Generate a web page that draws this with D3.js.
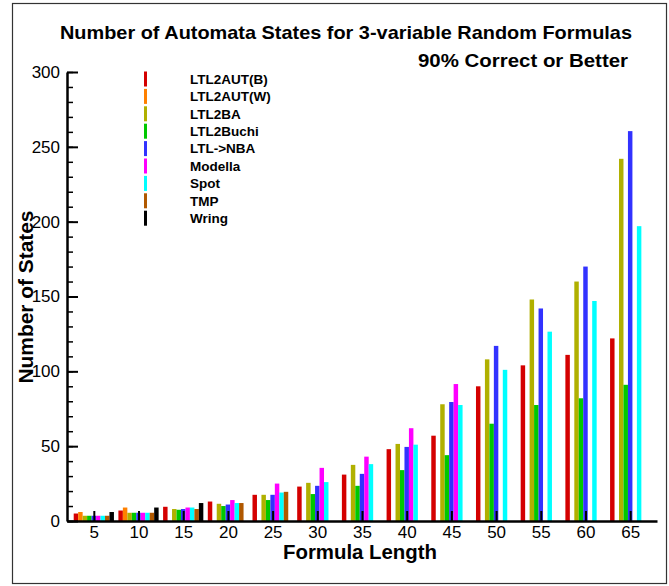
<!DOCTYPE html>
<html>
<head>
<meta charset="utf-8">
<script src="https://d3js.org/d3.v7.min.js"></script>
<style>
  body { margin: 0; background: #fff; }
  text { font-family: "Liberation Sans", Arial, sans-serif; }
</style>
</head>
<body>
<svg id="chart"></svg>
<script>
// formula lengths on the x axis
var lengths = [5, 10, 15, 20, 25, 30, 35, 40, 45, 50, 55, 60, 65];

var toolNames = ["LTL2AUT(B)", "LTL2AUT(W)", "LTL2BA", "LTL2Buchi", "LTL->NBA", "Modella", "Spot", "TMP", "Wring"];
var toolColors = ["#d40000", "#ff8000", "#b0b000", "#00c800", "#3232ff", "#ff00ff", "#00ffff", "#b05800", "#000000"];

// number of states per tool (null = no bar)
var ltl2autB  = [5, 7, 9.5, 13, 17.5, 23, 31, 48, 57, 90, 104, 111, 122];
var ltl2autW  = [6, 9, null, null, null, null, null, null, null, null, null, null, null];
var ltl2ba    = [3.5, 5.5, 8, 11.5, 17.5, 25.5, 37.5, 51.5, 78, 108, 148, 160, 242];
var ltl2buchi = [3.5, 5.5, 7.5, 10, 14, 18, 23.5, 34, 44, 65, 77.5, 82, 91];
var ltlNba    = [3.5, 5.5, 8, 11, 17.5, 23.5, 31.5, 49.5, 79.5, 117, 142, 170, 260.5];
var modella   = [3.5, 5.5, 9, 14, 25, 35.5, 43, 62, 91.5, null, null, null, null];
var spot      = [3.5, 5.5, 9, 12, 19, 26, 38, 51, 77.5, 101, 126.5, 147, 197];
var tmp       = [3.5, 5.5, 8, 12, 19.5, null, null, null, null, null, null, null, null];
var wring     = [6, 9, 12, null, null, null, null, null, null, null, null, null, null];

var series = [ltl2autB, ltl2autW, ltl2ba, ltl2buchi, ltlNba, modella, spot, tmp, wring];

var yTicks = [0, 50, 100, 150, 200, 250, 300];

var width = 669;
var height = 586;

var svg = d3.select("#chart")
    .attr("width", width)
    .attr("height", height);

// outer frame
svg.append("rect")
    .attr("x", 12.5)
    .attr("y", 3.5)
    .attr("width", 654)
    .attr("height", 580)
    .attr("fill", "#fff")
    .attr("stroke", "#333")
    .attr("stroke-width", 1.2);

var x = d3.scaleLinear().domain([2, 68]).range([67, 657]);
var y = d3.scaleLinear().domain([0, 300]).range([521, 72]);

var barW = 0.5; // in formula-length units

// flatten into bar records
var bars = [];
series.forEach(function(vals, i) {
  vals.forEach(function(v, j) {
    if (v != null) bars.push({ tool: i, len: lengths[j], value: v });
  });
});

svg.append("g")
    .attr("class", "bars")
  .selectAll("rect")
    .data(bars)
  .enter().append("rect")
    .attr("x", function(d) { return x(d.len + (d.tool - 4.5) * barW); })
    .attr("width", function(d) { return x(d.len + (d.tool - 3.5) * barW) - x(d.len + (d.tool - 4.5) * barW); })
    .attr("y", function(d) { return y(d.value); })
    .attr("height", function(d) { return y(0) - y(d.value); })
    .attr("fill", function(d) { return toolColors[d.tool]; });

// minor y ticks
svg.append("g")
    .attr("transform", "translate(" + x(2) + ",0)")
    .call(d3.axisLeft(y).tickValues(d3.range(0, 301, 10)).tickSizeInner(-6).tickSizeOuter(0).tickFormat(""))
    .call(function(g) { g.select(".domain").remove(); })
    .selectAll("line").attr("stroke-width", 1.5);

// y axis
var yAxis = svg.append("g")
    .attr("transform", "translate(" + x(2) + ",0)")
    .call(d3.axisLeft(y).tickValues(yTicks).tickSizeInner(-11).tickSizeOuter(0).tickPadding(7));

// x axis
var xAxis = svg.append("g")
    .attr("transform", "translate(0," + y(0) + ")")
    .call(d3.axisBottom(x).tickValues(lengths).tickSizeInner(-10).tickSizeOuter(0).tickPadding(5));

[yAxis, xAxis].forEach(function(g) {
  g.select(".domain").attr("stroke-width", 2.5);
  g.selectAll(".tick line").attr("stroke-width", 2);
  g.selectAll(".tick text")
    .style("font-size", "17px")
    .style("font-family", "Liberation Sans, Arial, sans-serif")
    .attr("fill", "#000");
});

// titles
svg.append("text")
    .attr("x", 346)
    .attr("y", 39)
    .attr("text-anchor", "middle")
    .attr("textLength", 572)
    .attr("lengthAdjust", "spacingAndGlyphs")
    .style("font-size", "19px")
    .style("font-weight", "bold")
    .text("Number of Automata States for 3-variable Random Formulas");

svg.append("text")
    .attr("x", 628)
    .attr("y", 67)
    .attr("text-anchor", "end")
    .attr("textLength", 210)
    .attr("lengthAdjust", "spacingAndGlyphs")
    .style("font-size", "19px")
    .style("font-weight", "bold")
    .text("90% Correct or Better");

svg.append("text")
    .attr("x", 360)
    .attr("y", 559)
    .attr("text-anchor", "middle")
    .attr("textLength", 154)
    .attr("lengthAdjust", "spacingAndGlyphs")
    .style("font-size", "20px")
    .style("font-weight", "bold")
    .text("Formula Length");

svg.append("text")
    .attr("transform", "translate(33,297) rotate(-90)")
    .attr("text-anchor", "middle")
    .attr("textLength", 173)
    .attr("lengthAdjust", "spacingAndGlyphs")
    .style("font-size", "20px")
    .style("font-weight", "bold")
    .text("Number of States");

// legend
var legend = svg.append("g")
  .selectAll(".legend")
    .data(toolNames)
  .enter().append("g")
    .attr("class", "legend")
    .attr("transform", function(d, i) { return "translate(0," + (79 + i * 17.4) + ")"; });

legend.append("rect")
    .attr("x", 144)
    .attr("y", -7.5)
    .attr("width", 3)
    .attr("height", 15)
    .attr("fill", function(d, i) { return toolColors[i]; });

legend.append("text")
    .attr("x", 190)
    .attr("y", 0)
    .attr("dy", "0.35em")
    .style("font-size", "13.5px")
    .style("font-weight", "bold")
    .text(function(d) { return d; });
</script>
</body>
</html>
